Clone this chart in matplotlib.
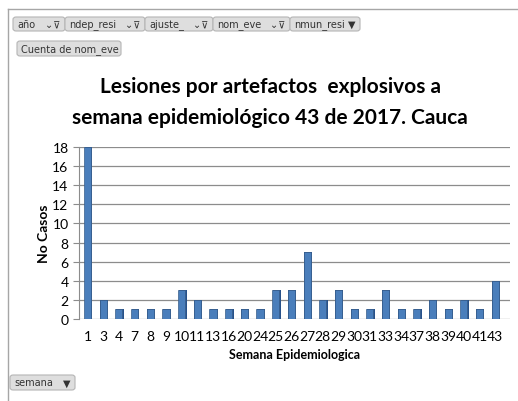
import matplotlib
matplotlib.use("Agg")
import matplotlib.pyplot as plt
from matplotlib.patches import FancyBboxPatch
import numpy as np

plt.rcParams['font.family'] = ['Lato', 'DejaVu Sans']

semanas = ['1', '3', '4', '7', '8', '9', '10', '11', '13', '16', '20', '24', '25', '26',
           '27', '28', '29', '30', '31', '33', '34', '37', '38', '39', '40', '41', '43']
casos = [18, 2, 1, 1, 1, 1, 3, 2, 1, 1, 1, 1, 3, 3, 7, 2, 3, 1, 1, 3, 1, 1, 2, 1, 2, 1, 4]
filtros = ['año', 'ndep_resi', 'ajuste_', 'nom_eve', 'nmun_resi']

W, H = 518, 402
fig = plt.figure(figsize=(W / 100, H / 100), dpi=100)
fig.patch.set_facecolor('white')

# frame of the pivot chart
fig.add_artist(plt.Line2D([8 / W, 1], [1 - 10 / H, 1 - 10 / H], color='#a6a6a6', lw=1))
fig.add_artist(plt.Line2D([8 / W, 8 / W], [0, 1 - 10 / H], color='#a6a6a6', lw=1))


def boton(x0, y0, w, h, texto, flecha=None):
    fig.add_artist(FancyBboxPatch((x0 / W, 1 - (y0 + h) / H), w / W, h / H,
                                  boxstyle='round,pad=0,rounding_size=0.006',
                                  fc='#dedede', ec='#b5b5b5', lw=0.8,
                                  transform=fig.transFigure))
    fig.text((x0 + 4) / W, 1 - (y0 + h / 2) / H, texto, fontsize=7,
             va='center', ha='left', color='#333333',
             family=['DejaVu Sans'])
    if flecha:
        fig.text((x0 + w - 5) / W, 1 - (y0 + h / 2) / H, flecha, fontsize=7,
                 va='center', ha='right', color='#333333',
                 family=['DejaVu Sans'])


xs = [13, 65, 145, 213, 290]
ws = [52, 80, 68, 77, 70]
for i, f in enumerate(filtros):
    boton(xs[i], 18, ws[i], 14, f, '▼' if i == 4 else '⌄⊽')
boton(17, 42, 104, 15, 'Cuenta de nom_eve')
boton(10, 376, 65, 15, 'semana', '▼')

fig.text(270 / W, 1 - 87 / H, 'Lesiones por artefactos  explosivos a',
         ha='center', va='center', fontsize=15, fontweight='bold')
fig.text(270 / W, 1 - 118 / H, 'semana epidemiológico 43 de 2017. Cauca',
         ha='center', va='center', fontsize=15, fontweight='bold')

ax = fig.add_axes([79 / W, 1 - 320 / H, (510 - 79) / W, (320 - 148) / H])
x = np.arange(len(semanas))
ax.bar(x + 0.06, casos, width=0.5, color='#27518a', zorder=2)
ax.bar(x, casos, width=0.45, color='#4a7ebb', edgecolor='#385d8a', lw=0.5, zorder=3)
ax.set_xlim(-0.55, len(semanas) - 0.05)
ax.set_ylim(0, 18)
ax.set_yticks(range(0, 19, 2))
ax.set_xticks(x)
ax.set_xticklabels(semanas)
ax.grid(axis='y', color='#8c8c8c', lw=0.9, zorder=0)
for s in ['top', 'right', 'bottom']:
    ax.spines[s].set_visible(False)
ax.spines['left'].set_color('#8c8c8c')
ax.tick_params(axis='x', length=0, labelsize=10, pad=8)
ax.tick_params(axis='y', labelsize=10, color='#8c8c8c', length=4)
ax.set_ylabel('No Casos', fontsize=10, fontweight='bold', labelpad=2)
ax.set_xlabel('Semana Epidemiologica', fontsize=9, fontweight='bold', labelpad=4)

fig.savefig('out.png', dpi=100)
